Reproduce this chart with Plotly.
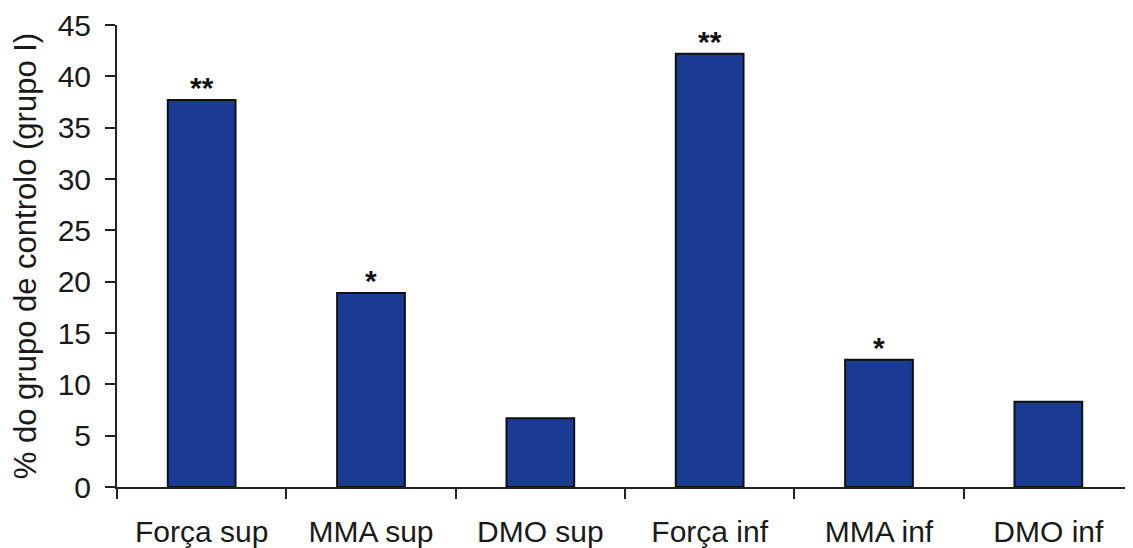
import plotly.graph_objects as go

categories = ["Força sup", "MMA sup", "DMO sup", "Força inf", "MMA inf", "DMO inf"]
values = [37.7, 18.9, 6.7, 42.2, 12.4, 8.3]
significance = ["**", "*", "", "**", "*", ""]
y_ticks = [0, 5, 10, 15, 20, 25, 30, 35, 40, 45]

FONT = "Arial, Liberation Sans, Helvetica, sans-serif"

fig = go.Figure()
fig.add_trace(go.Bar(
    x=categories,
    y=values,
    width=0.4,
    marker=dict(color="#1b3a94", line=dict(color="#111111", width=2)),
    showlegend=False,
))

for c, v, s in zip(categories, values, significance):
    if s:
        fig.add_annotation(
            x=c, y=v, text="<b>" + s + "</b>", showarrow=False, yanchor="bottom",
            yshift=-6, font=dict(family=FONT, size=30, color="#111111"),
        )

# page body adds an 8px offset, so margins are compensated
fig.update_layout(
    width=1133, height=548,
    margin=dict(l=109, r=8, t=17, b=69),
    paper_bgcolor="white", plot_bgcolor="white",
    font=dict(family=FONT, color="#1a1a1a"),
)
fig.update_xaxes(
    type="category", range=[-0.5, 5.5], automargin=False,
    showline=True, linecolor="#222222", linewidth=2,
    ticks="outside", tickson="boundaries", ticklen=10, tickwidth=2, tickcolor="#222222",
    tickfont=dict(family=FONT, size=30, color="#1a1a1a"),
    ticklabelstandoff=17,
    showgrid=False, zeroline=False,
)
fig.update_yaxes(
    range=[0, 45], tickvals=y_ticks, automargin=False,
    showline=True, linecolor="#222222", linewidth=2,
    ticks="outside", ticklen=10, tickwidth=2, tickcolor="#222222",
    tickfont=dict(family=FONT, size=30, color="#1a1a1a"),
    ticklabelstandoff=8,
    showgrid=False, zeroline=False,
    title=dict(text="% do grupo de controlo (grupo I)", font=dict(family=FONT, size=31, color="#1a1a1a"), standoff=12),
)

fig.write_html("out.html")
